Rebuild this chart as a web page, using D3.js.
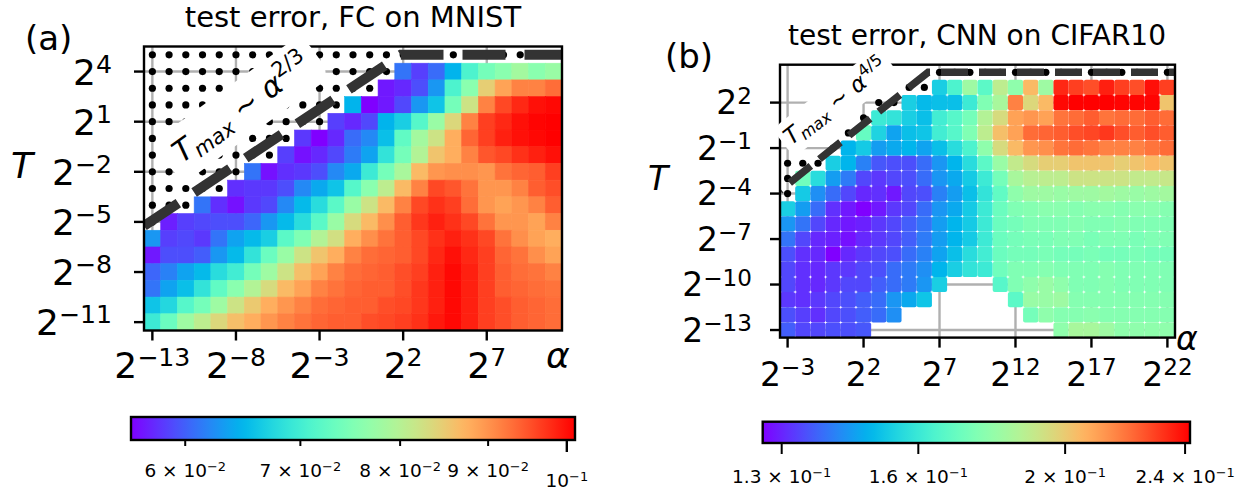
<!DOCTYPE html>
<html><head><meta charset="utf-8">
<script src="https://cdn.jsdelivr.net/npm/d3@7"></script>
<style>
body{margin:0;background:#fff}
svg{display:block}
text{font-family:"DejaVu Sans",sans-serif;white-space:pre}
</style>
</head><body>
<svg id="chart" width="1240" height="493"></svg>
<script>
const _ = null;
// ---------------- Panel (a): FC on MNIST ----------------
const fcAlphaExp = [-13,-12,-11,-10,-9,-8,-7,-6,-5,-4,-3,-2,-1,0,1,2,3,4,5,6,7,8,9,10,11];
const fcTExp = [5,4,3,2,1,0,-1,-2,-3,-4,-5,-6,-7,-8,-9,-10,-11];
const fcErr = [
 [_,_,_,_,_,_,_,_,_,_,_,_,_,_,_,_,_,_,_,_,_,_,_,_,_],
 [_,_,_,_,_,_,_,_,_,_,_,_,_,_,_,.0610,.0585,.0606,.0647,.0708,.0742,.0760,.0783,.0760,.0774],
 [_,_,_,_,_,_,_,_,_,_,_,_,_,_,.0568,.0575,.0592,.0629,.0708,.0760,.0846,.0887,.0914,.0914,.0930],
 [_,_,_,_,_,_,_,_,_,_,_,_,.0647,.0558,.0568,.0589,.0629,.0659,.0742,.0821,.0914,.0958,.0981,.0999,.1005],
 [_,_,_,_,_,_,_,_,_,_,_,.0585,.0575,.0589,.0647,.0667,.0716,.0774,.0836,.0914,.0964,.0981,.0999,.1008,.1011],
 [_,_,_,_,_,_,_,_,_,.0582,.0558,.0575,.0606,.0621,.0655,.0725,.0783,.0821,.0877,.0936,.0964,.0987,.0999,.1005,.1011],
 [_,_,_,_,_,_,_,_,.0585,.0565,.0575,.0589,.0614,.0636,.0687,.0742,.0797,.0856,.0877,.0914,.0947,.0958,.0975,.0987,.0999],
 [_,_,_,_,_,_,.0610,.0565,.0578,.0582,.0592,.0621,.0640,.0695,.0742,.0788,.0866,.0898,.0903,.0903,.0898,.0925,.0936,.0941,.0964],
 [_,_,_,_,_,.0578,.0582,.0582,.0592,.0621,.0640,.0659,.0716,.0760,.0807,.0866,.0914,.0958,.0947,.0925,.0898,.0898,.0914,.0941,.0953],
 [_,_,_,.0610,.0578,.0565,.0582,.0589,.0621,.0651,.0679,.0720,.0774,.0821,.0866,.0914,.0958,.0975,.0964,.0930,.0898,.0887,.0898,.0914,.0941],
 [_,.0571,.0585,.0589,.0592,.0592,.0603,.0629,.0651,.0679,.0720,.0774,.0831,.0866,.0903,.0941,.0970,.0987,.0975,.0958,.0925,.0898,.0898,.0887,.0914],
 [.0629,.0585,.0589,.0582,.0610,.0636,.0651,.0667,.0720,.0751,.0797,.0826,.0877,.0903,.0925,.0941,.0958,.0975,.0987,.0975,.0958,.0925,.0903,.0887,.0877],
 [.0568,.0592,.0592,.0599,.0629,.0651,.0687,.0733,.0774,.0821,.0856,.0877,.0914,.0930,.0936,.0941,.0958,.0981,.0999,.0981,.0964,.0936,.0925,.0903,.0887],
 [.0603,.0617,.0636,.0651,.0679,.0699,.0742,.0778,.0821,.0861,.0887,.0914,.0930,.0936,.0941,.0953,.0964,.0987,.1005,.0987,.0964,.0941,.0930,.0925,.0914],
 [.0610,.0636,.0655,.0687,.0725,.0760,.0797,.0831,.0866,.0887,.0914,.0925,.0936,.0941,.0941,.0953,.0970,.0987,.1005,.0987,.0964,.0941,.0936,.0930,.0925],
 [.0659,.0675,.0716,.0742,.0778,.0821,.0851,.0877,.0898,.0914,.0930,.0936,.0941,.0941,.0953,.0958,.0970,.0987,.1005,.0987,.0964,.0953,.0941,.0936,.0930],
 [.0695,.0733,.0778,.0807,.0836,.0861,.0877,.0898,.0914,.0925,.0936,.0941,.0941,.0953,.0958,.0964,.0975,.0993,.1005,.0987,.0964,.0953,.0941,.0936,.0930]
];
const fcTicksX = [-13,-8,-3,2,7];
const fcTicksY = [4,1,-2,-5,-8,-11];
const fcCbarRange = [0.0558, 0.1011];
const fcCbarTicks = [0.06, 0.07, 0.08, 0.09, 0.1];
const fcCbarLabels = [["6 × 10","−2"],["7 × 10","−2"],["8 × 10","−2"],["9 × 10","−2"],["10","−1"]];
const fcCbarMajor = [false,false,false,false,true];
const fcLine = {slope: 2/3, c: 3.76, top: 5};

// ---------------- Panel (b): CNN on CIFAR10 ----------------
const cnnAlphaExp = [-3,-2,-1,0,1,2,3,4,5,6,7,8,9,10,11,12,13,14,15,16,17,18,19,20,21,22];
const cnnTExp = [3,2,1,0,-1,-2,-3,-4,-5,-6,-7,-8,-9,-10,-11,-12,-13];
const cnnErr = [
 [_,_,_,_,_,_,_,_,_,_,.1535,.1638,.1817,.1670,.1889,.1782,.2043,.1817,.2342,.2296,.2267,.2357,.2296,.2267,.2388,.2296],
 [_,_,_,_,_,_,_,_,.1535,.1495,.1505,.1505,.1606,.1748,.1841,.2166,.1965,.2043,.2403,.2418,.2418,.2418,.2411,.2411,.2411,.2016],
 [_,_,_,_,_,_,.1606,.1585,.1535,.1505,.1617,.1659,.1725,.1865,.1952,.2097,.2124,.2097,.2194,.2209,.2238,.2194,.2209,.2209,.2238,.2209],
 [_,_,_,_,_,.1692,.1545,.1457,.1505,.1515,.1617,.1659,.1748,.1889,.2030,.2097,.2209,.2223,.2238,.2267,.2282,.2311,.2267,.2238,.2267,.2238],
 [_,_,_,_,.1486,.1525,.1448,.1467,.1486,.1457,.1505,.1565,.1638,.1782,.1952,.2043,.2124,.2138,.2194,.2209,.2194,.2166,.2166,.2166,.2194,.2209],
 [_,_,_,.1535,.1486,.1410,.1357,.1348,.1348,.1383,.1438,.1486,.1565,.1670,.1805,.1902,.1952,.1990,.1990,.2016,.2016,.2016,.1990,.2016,.2043,.2016],
 [_,.1714,.1565,.1448,.1401,.1339,.1322,.1339,.1348,.1383,.1438,.1467,.1525,.1606,.1725,.1841,.1877,.1889,.1889,.1926,.1926,.1926,.1926,.1902,.1902,.1914],
 [_,.1525,.1429,.1383,.1339,.1305,.1313,.1288,.1339,.1348,.1410,.1448,.1505,.1585,.1681,.1782,.1817,.1817,.1805,.1817,.1817,.1829,.1817,.1805,.1817,.1829],
 [.1535,.1448,.1383,.1313,.1288,.1263,.1288,.1322,.1339,.1383,.1438,.1467,.1525,.1606,.1703,.1748,.1759,.1770,.1770,.1759,.1770,.1770,.1759,.1770,.1770,.1759],
 [.1438,.1392,.1339,.1305,.1288,.1296,.1322,.1339,.1365,.1392,.1448,.1486,.1525,.1606,.1703,.1725,.1748,.1748,.1748,.1759,.1748,.1748,.1759,.1748,.1748,.1748],
 [.1392,.1339,.1305,.1296,.1280,.1305,.1322,.1339,.1365,.1401,.1448,.1486,.1525,.1606,.1703,.1725,.1736,.1736,.1748,.1748,.1736,.1748,.1748,.1736,.1748,.1748],
 [.1348,.1313,.1305,.1263,.1305,.1322,.1339,.1348,.1383,.1410,.1457,.1505,.1565,.1617,.1703,.1725,.1725,.1736,.1725,.1725,.1736,.1725,.1725,.1736,.1725,.1725],
 [.1339,.1313,.1305,.1322,.1322,.1339,.1348,.1383,.1401,.1429,.1486,.1535,.1585,.1606,.1714,.1748,.1748,.1759,.1748,.1748,.1748,.1759,.1748,.1748,.1748,.1748],
 [.1339,.1313,.1305,.1322,.1339,.1339,.1365,.1383,.1401,.1438,.1535,_,_,_,.1659,.1748,.1782,.1805,.1782,.1748,.1748,.1759,.1748,.1748,.1748,.1748],
 [.1322,.1313,.1322,.1339,.1348,.1365,.1383,.1438,.1467,.1515,_,_,_,_,_,.1670,.1805,.1805,.1817,.1759,.1759,.1759,.1759,.1759,.1759,.1759],
 [.1348,.1330,.1313,.1339,.1348,.1365,.1383,.1429,_,_,_,_,_,_,_,_,.1725,.1782,.1759,.1759,.1770,.1759,.1759,.1759,.1759,.1759],
 [.1365,.1339,.1339,.1348,.1348,.1357,_,_,_,_,_,_,_,_,_,_,_,_,.1782,.1841,.1841,.1817,.1782,.1782,.1782,.1782]
];
const cnnDivAlpha = [-3,-3,-3,-2,-1,0,1,2,3,4,5,6,7,8,9,10,11,12,13,14,15,16,17,18,19,20,21,22];
const cnnDivT     = [-4,-3,-2,-2,-2,-1,0,1,2,2,3,3,4,4,4,4,4,4,4,4,4,4,4,4,4,4,4,4];
const cnnTicksX = [-3,2,7,12,17,22];
const cnnTicksY = [2,-1,-4,-7,-10,-13];
const cnnCbarRange = [0.1263, 0.2418];
const cnnCbarTicks = [0.13, 0.16, 0.2, 0.24];
const cnnCbarLabels = [["1.3 × 10","−1"],["1.6 × 10","−1"],["2 × 10","−1"],["2.4 × 10","−1"]];
const cnnCbarMajor = [false,false,false,false];
const cnnLine = {slope: 4/5, c: -1.0, top: 4};

// ---------------- helpers ----------------
const svg = d3.select("#chart");
const defs = svg.append("defs");

function rainbow(t){
  t = Math.max(0, Math.min(1, t));
  const r = Math.min(1, Math.abs(2*t - 0.5)), g = Math.sin(Math.PI*t), b = Math.cos(Math.PI*t/2);
  return d3.rgb(Math.round(r*255), Math.round(g*255), Math.round(b*255)).formatHex();
}
function supText(sel, base, exp, F){
  sel.append("tspan").text(base);
  if (exp) sel.append("tspan").attr("font-size", 0.7*F).attr("dy", -0.33*F).text(exp);
}

function drawPanel(o){
  const x = d3.scaleLog().base(2).domain([2**o.xd[0], 2**o.xd[1]]).range(o.xr);
  const y = d3.scaleLog().base(2).domain([2**o.yd[0], 2**o.yd[1]]).range(o.yr);
  const cnorm = d3.scaleLog().domain(o.cr).range([0,1]).clamp(true);
  const g = svg.append("g");
  defs.append("clipPath").attr("id", o.id).append("rect")
    .attr("x", o.xr[0]).attr("y", o.yr[1]).attr("width", o.xr[1]-o.xr[0]).attr("height", o.yr[0]-o.yr[1]);
  const pg = g.append("g").attr("clip-path", `url(#${o.id})`);
  // grid
  pg.selectAll("line.gx").data(o.tx).join("line")
    .attr("x1", d=>x(2**d)).attr("x2", d=>x(2**d)).attr("y1", o.yr[0]).attr("y2", o.yr[1])
    .attr("stroke", "#b0b0b0").attr("stroke-width", 2.4);
  pg.selectAll("line.gy").data(o.ty).join("line")
    .attr("y1", d=>y(2**d)).attr("y2", d=>y(2**d)).attr("x1", o.xr[0]).attr("x2", o.xr[1])
    .attr("stroke", "#b0b0b0").attr("stroke-width", 2.4);
  // cells
  const cells = [];
  o.err.forEach((row,i)=>row.forEach((v,j)=>{ if (v!=null) cells.push({a:o.ax[j], t:o.at[i], v}); }));
  pg.selectAll("rect.cell").data(cells).join("rect")
    .attr("x", d=>x(2**(d.a-0.5))).attr("width", d=>x(2**(d.a+0.5))-x(2**(d.a-0.5)))
    .attr("y", d=>y(2**(d.t+0.5))).attr("height", d=>y(2**(d.t-0.5))-y(2**(d.t+0.5)))
    .attr("rx", o.rx).attr("ry", o.rx)
    .attr("fill", d=>rainbow(cnorm(d.v)))
    .attr("stroke", d=>o.rx ? "none" : rainbow(cnorm(d.v))).attr("stroke-width", 0.6);
  // diverged dots
  pg.selectAll("circle.dv").data(o.dots).join("circle")
    .attr("cx", d=>x(2**d[0])).attr("cy", d=>y(2**d[1])).attr("r", o.dotR).attr("fill", "#000");
  // dashed T_max line
  const L = o.line;
  const a0 = o.xd[0], aK = (L.top - L.c)/L.slope, a1 = o.xd[1];
  const pts = [[a0, L.slope*a0 + L.c],[aK, L.top],[a1, L.top]].map(p=>[x(2**p[0]), y(2**p[1])]);
  const len1 = Math.hypot(pts[1][0]-pts[0][0], pts[1][1]-pts[0][1]);
  const Ltot = len1 + (o.gapX - pts[1][0]);
  const P = o.dash[0] + o.dash[1], gc = o.dash[0] + o.dash[1]/2;
  const off = (((gc - Ltot) % P) + P) % P;
  pg.append("path").attr("d", d3.line()(pts)).attr("fill","none")
    .attr("stroke", "#333").attr("stroke-width", o.lw)
    .attr("stroke-dasharray", o.dash.join(",")).attr("stroke-dashoffset", off);
  // frame
  g.append("rect").attr("x", o.xr[0]).attr("y", o.yr[1]).attr("width", o.xr[1]-o.xr[0]).attr("height", o.yr[0]-o.yr[1])
    .attr("fill","none").attr("stroke","#000").attr("stroke-width", 2.4);
  // ticks
  g.selectAll("line.tx").data(o.tx).join("line")
    .attr("x1", d=>x(2**d)).attr("x2", d=>x(2**d)).attr("y1", o.yr[0]).attr("y2", o.yr[0]+10)
    .attr("stroke","#000").attr("stroke-width",2.4);
  g.selectAll("line.ty").data(o.ty).join("line")
    .attr("y1", d=>y(2**d)).attr("y2", d=>y(2**d)).attr("x1", o.xr[0]).attr("x2", o.xr[0]-10)
    .attr("stroke","#000").attr("stroke-width",2.4);
  o.tx.forEach(d=>{
    const t = g.append("text").attr("x", x(2**d)).attr("y", o.xlabY).attr("text-anchor","middle").attr("font-size", o.F);
    supText(t, "2", String(d).replace("-", "−"), o.F);
  });
  o.ty.forEach(d=>{
    const t = g.append("text").attr("x", o.ylabX).attr("y", y(2**d) + 0.36*o.F).attr("text-anchor","end").attr("font-size", o.F);
    supText(t, "2", String(d).replace("-", "−"), o.F);
  });
  // axis labels
  g.append("text").attr("x", o.Tpos[0]).attr("y", o.Tpos[1]).attr("font-size", o.F).attr("font-style","italic").text("T");
  g.append("text").attr("x", o.Apos[0]).attr("y", o.Apos[1]).attr("font-size", o.F).attr("font-style","italic").text("α");
  // annotation box
  const lb = o.label;
  const lg = g.append("g").attr("transform", `translate(${lb.cx},${lb.cy}) rotate(${-lb.angle})`);
  lg.append("rect").attr("x", -lb.w/2).attr("y", -lb.h/2).attr("width", lb.w).attr("height", lb.h)
    .attr("rx", lb.h*0.3).attr("fill", "#fff");
  const F2 = lb.F;
  const tt = lg.append("text").attr("x", 0).attr("y", 0.3*F2).attr("text-anchor","middle").attr("font-size", F2);
  tt.append("tspan").attr("font-style","italic").text("T");
  tt.append("tspan").attr("font-style","italic").attr("font-size", 0.7*F2).attr("dy", 0.2*F2).text("max");
  tt.append("tspan").attr("dy", -0.2*F2).text(" ∼ ");
  tt.append("tspan").attr("font-style","italic").text("α");
  tt.append("tspan").attr("font-size", 0.7*F2).attr("dy", -0.42*F2).text(lb.exp);
  // title and panel tag
  svg.append("text").attr("x", o.title[1]).attr("y", o.title[2]).attr("text-anchor","middle")
    .attr("font-size", o.title[3]).text(o.title[0]);
  svg.append("text").attr("x", o.tag[1]).attr("y", o.tag[2]).attr("font-size", 34).text(o.tag[0]);
}

function drawCbar(o){
  const gid = o.id;
  const grad = defs.append("linearGradient").attr("id", gid).attr("x1","0%").attr("x2","100%").attr("y1","0%").attr("y2","0%");
  d3.range(0, 1.0001, 0.02).forEach(t=>grad.append("stop").attr("offset", (t*100)+"%").attr("stop-color", rainbow(t)));
  const s = d3.scaleLog().domain(o.cr).range(o.xr);
  const g = svg.append("g");
  g.append("rect").attr("x", o.xr[0]).attr("y", o.y0).attr("width", o.xr[1]-o.xr[0]).attr("height", o.y1-o.y0)
    .attr("fill", `url(#${gid})`).attr("stroke","#000").attr("stroke-width",2.4);
  o.ticks.forEach((v,i)=>{
    const len = o.major[i] ? 12 : o.minorLen;
    g.append("line").attr("x1", s(v)).attr("x2", s(v)).attr("y1", o.y1).attr("y2", o.y1+len)
      .attr("stroke","#000").attr("stroke-width", o.major[i] ? 2.4 : 2);
    const t = g.append("text").attr("x", s(v)).attr("y", o.major[i] ? o.labYmaj : o.labY)
      .attr("text-anchor","middle").attr("font-size", 18.5);
    supText(t, o.labels[i][0], o.labels[i][1], 18.5);
  });
}

// ---------------- draw ----------------
const fcDots = [];
fcErr.forEach((row,i)=>row.forEach((v,j)=>{ if (v==null) fcDots.push([fcAlphaExp[j], fcTExp[i]]); }));
drawPanel({
  id:"clipA", xd:[-13.5, 11.5], xr:[144, 562], yd:[-11.5, 5.5], yr:[330.5, 46.5],
  cr: fcCbarRange, ax: fcAlphaExp, at: fcTExp, err: fcErr, rx: 0,
  tx: fcTicksX, ty: fcTicksY, dots: fcDots, dotR: 3.6,
  line: fcLine, lw: 10, dash:[43,19], gapX: 453,
  F: 36, xlabY: 378, ylabX: 112, Tpos:[11,178], Apos:[546,368],
  label:{cx:242, cy:109, angle:36, w:184, h:52, F:30, exp:"2/3"},
  title:["test error, FC on MNIST", 353, 27, 29], tag:["(a)", 25, 50]
});
drawPanel({
  id:"clipB", xd:[-3.5, 22.5], xr:[780, 1175], yd:[-13.5, 4.5], yr:[337.6, 64.7],
  cr: cnnCbarRange, ax: cnnAlphaExp, at: cnnTExp, err: cnnErr, rx: 2,
  tx: cnnTicksX, ty: cnnTicksY, dots: cnnDivAlpha.map((a,i)=>[a, cnnDivT[i]]), dotR: 3.6,
  line: cnnLine, lw: 7.4, dash:[27,11], gapX: 973.5,
  F: 33, xlabY: 386, ylabX: 752, Tpos:[648,190], Apos:[1176,350],
  label:{cx:836, cy:102, angle:38, w:134, h:36, F:23, exp:"4/5"},
  title:["test error, CNN on CIFAR10", 977, 45, 28], tag:["(b)", 665, 68]
});
drawCbar({id:"gradA", cr: fcCbarRange, xr:[131,575], y0:417, y1:440, ticks: fcCbarTicks, labels: fcCbarLabels,
  major: fcCbarMajor, minorLen: 6, labY: 477, labYmaj: 487});
drawCbar({id:"gradB", cr: cnnCbarRange, xr:[762.7,1190], y0:421.7, y1:443, ticks: cnnCbarTicks, labels: cnnCbarLabels,
  major: cnnCbarMajor, minorLen: 11, labY: 483, labYmaj: 483});
</script>
</body></html>
